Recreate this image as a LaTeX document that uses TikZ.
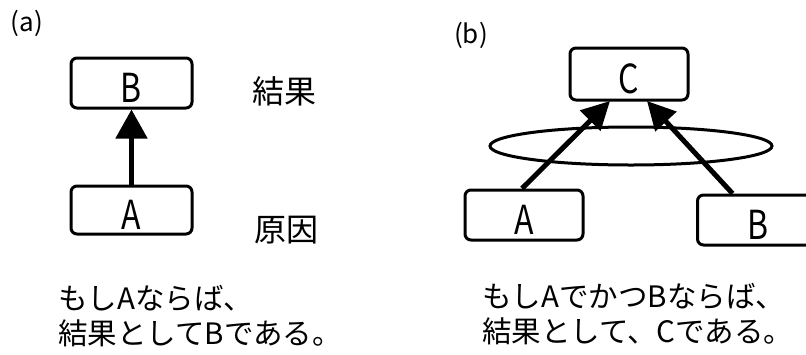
\documentclass[tikz,border=0pt]{standalone}
\usepackage{fontspec}
\setmainfont{Noto Sans CJK JP}
\usetikzlibrary{arrows.meta}
\newcommand{\lt}[1]{\scalebox{0.8}[1]{#1}}
\tikzset{
  x=1pt, y=-1pt,
  boxnode/.style={draw, line width=3pt, rounded corners=6pt, inner sep=0pt,
    text height=38pt, text depth=0pt, font=\fontsize{40}{40}\selectfont},
  bigarrow/.style={line width=5pt, -{Triangle[length=29pt,width=31pt]}},
  midarrow/.style={line width=5pt, -{Triangle[length=28pt,width=28pt]}},
  jtext/.style={font=\fontsize{29.5}{35}\selectfont, align=left, inner sep=0pt},
  sidelabel/.style={font=\fontsize{32}{32}\selectfont, inner sep=0pt},
  panellabel/.style={font=\fontsize{26}{26}\selectfont, inner sep=0pt}
}
\begin{document}
\begin{tikzpicture}
\useasboundingbox (0,0) rectangle (806,354);
% (a)
\node[panellabel] (la) at (27,23) {(a)};
\node[boxnode, minimum width=121pt, minimum height=50pt] (aB) at (131.5,83) {\lt{B}};
\node[boxnode, minimum width=121pt, minimum height=48pt] (aA) at (131.5,210) {\lt{A}};
\draw[bigarrow] (aA.north) -- (aB.south);
\node[sidelabel] (res) at (284,91) {結果};
\node[sidelabel] (cau) at (286,230) {原因};
\node[jtext, anchor=north west] (ta) at (58,285) {もしAならば、\\結果としてBである。};
% (b)
\node[panellabel] (lb) at (471,35) {(b)};
\draw[line width=3pt] (631,146) ellipse [x radius=141pt, y radius=19pt];
\node[boxnode, minimum width=118pt, minimum height=52pt] (bC) at (629,74) {\lt{C}};
\node[boxnode, minimum width=118pt, minimum height=50pt] (bA) at (524,215) {\lt{A}};
\node[boxnode, minimum width=122pt, minimum height=50pt, anchor=west] (bB) at (696,220) {\lt{B}};
\coordinate (cl) at (610,101);
\coordinate (cr) at (647,101);
\draw[midarrow] ([xshift=-2pt]bA.north) -- (cl);
\draw[midarrow] ([xshift=-26pt]bB.north) -- (cr);
\node[jtext, anchor=north west] (tb) at (482,283) {もしAでかつBならば、\\結果として、Cである。};
\end{tikzpicture}
\end{document}
